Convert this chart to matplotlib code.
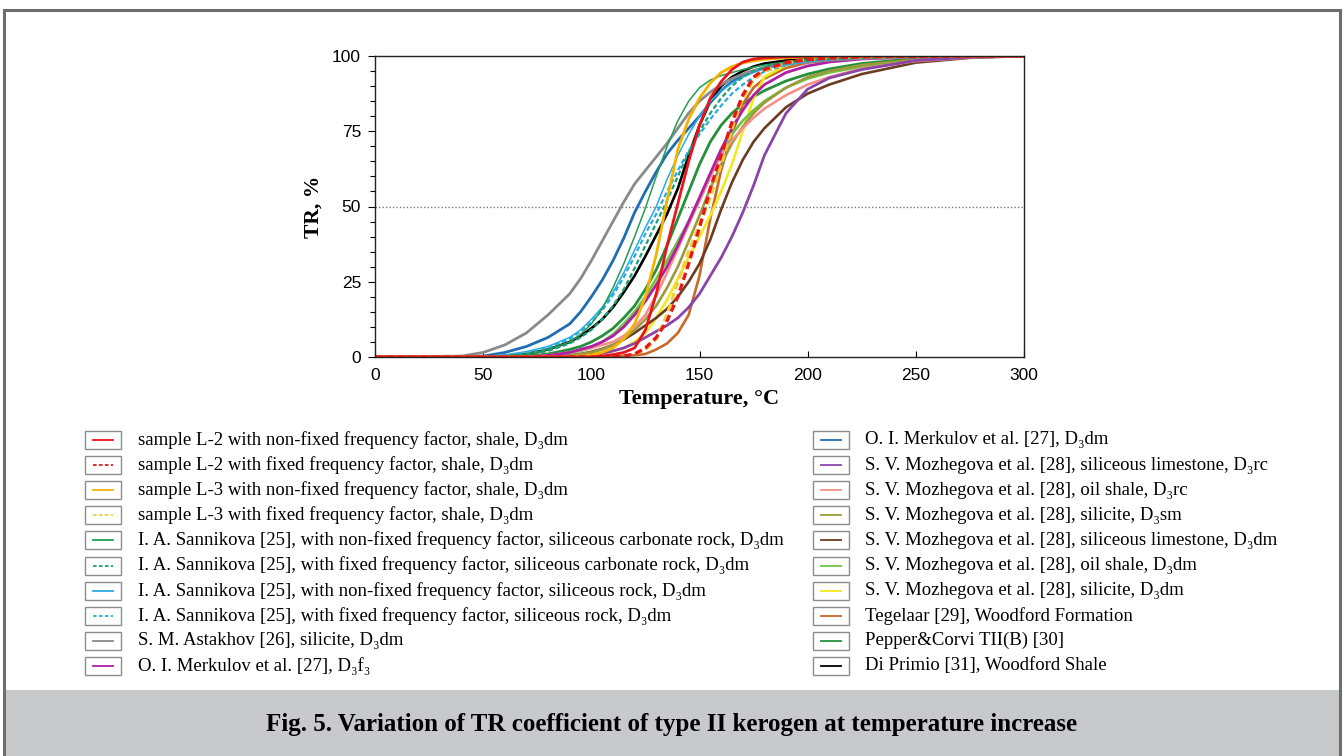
import numpy as np
import matplotlib
matplotlib.use('Agg')
import matplotlib.pyplot as plt
from matplotlib.patches import Rectangle
from matplotlib.lines import Line2D
from matplotlib.ticker import MultipleLocator

# temperature grid, degC
temp = [0, 40, 50, 60, 70, 80, 90, 95, 100, 105, 110, 115, 120, 125, 130, 135, 140,
        145, 150, 155, 160, 165, 170, 175, 180, 190, 200, 210, 225, 250, 275, 300]

# TR, %
tr_l2_free = [0, 0, 0, 0, 0, 0, 0, 0, 0, 0.3, 0.8, 1.5, 3, 9, 21, 37, 51,
              65, 77, 86, 91.5, 95.5, 98, 99, 99.4, 99.7, 99.9, 100, 100, 100, 100, 100]
tr_l2_fix = [0, 0, 0, 0, 0, 0, 0, 0, 0, 0, 0, 0.3, 1, 3, 6.5, 12, 20,
             31, 43, 56, 67, 78, 87, 93, 95.5, 97.8, 98.8, 99.3, 99.7, 99.9, 100, 100]
tr_l3_free = [0, 0, 0, 0, 0, 0, 0, 0.3, 0.7, 1.5, 3, 6, 11, 20, 34, 52, 69,
              79, 86, 91, 94.5, 96.5, 97.7, 98.4, 98.9, 99.4, 99.7, 99.8, 99.9, 100, 100, 100]
tr_l3_fix = [0, 0, 0, 0, 0, 0, 0, 0, 0, 0, 0, 0.2, 1, 2.5, 6, 14, 25,
             35, 44, 53, 64, 76, 86, 92, 95, 97.8, 98.9, 99.4, 99.7, 99.9, 100, 100]
tr_sann_sc_free = [0, 0, 0, 0.3, 1, 2.5, 5, 7.5, 11, 16, 23, 31, 40, 49.5, 60, 70, 78.5,
                   85, 89.5, 92, 93.5, 94.5, 95.5, 96.3, 97, 98, 98.7, 99.1, 99.5, 99.8, 100, 100]
tr_sann_sc_fix = [0, 0, 0, 0.3, 0.8, 2, 4.5, 6.5, 9, 12.5, 17, 22.5, 29.5, 37, 44.5, 52, 60,
                  68, 75, 81, 86, 90, 93, 95, 96.3, 97.8, 98.6, 99.1, 99.5, 99.8, 100, 100]
tr_sann_s_free = [0, 0, 0.2, 0.7, 1.8, 3.5, 6.5, 9, 12.5, 16.5, 21.5, 28, 35.5, 43, 50, 59, 67,
                  74, 80, 85, 88.5, 91, 93, 94.5, 95.7, 97.3, 98.3, 98.9, 99.4, 99.8, 100, 100]
tr_sann_s_fix = [0, 0, 0.1, 0.5, 1.3, 3, 6, 8.5, 11.5, 15.5, 20.5, 26.5, 33.5, 41, 47.5, 55, 62,
                 68.5, 74, 79, 83.5, 87.5, 90.5, 93, 94.8, 97, 98.2, 98.9, 99.4, 99.8, 100, 100]
tr_astakhov = [0, 0.3, 1.5, 4, 8, 14, 21, 26, 32, 38.5, 45, 51.5, 57.5, 62, 66.5, 71, 76,
               81, 85, 88, 90.5, 92.5, 94, 95.2, 96, 97.2, 98, 98.6, 99.2, 99.7, 99.9, 100]
tr_merk_f3 = [0, 0, 0, 0, 0, 0.5, 1.5, 2.5, 3.5, 5, 7, 10, 14, 18.5, 24, 30, 37,
              45, 53, 61, 69, 76, 82, 87, 90.5, 94.5, 96.7, 98, 99, 99.7, 100, 100]
tr_merk_dm = [0, 0, 0.3, 1.5, 3.5, 6.5, 11, 15, 20, 25.5, 32, 39.5, 48, 55, 61.5, 67.5, 72,
              76, 80, 84.5, 88.5, 91.5, 93.5, 95, 96.2, 97.7, 98.5, 99, 99.5, 99.8, 100, 100]
tr_moz_lime_rc = [0, 0, 0, 0, 0, 0, 0, 0.3, 0.7, 1.2, 2, 3, 4.5, 6.5, 8.5, 10.5, 13,
                  16.5, 21, 27, 33, 40, 48, 57, 67, 81, 89, 92.7, 95.5, 98.5, 99.6, 100]
tr_moz_oil_rc = [0, 0, 0, 0, 0, 0.5, 1.5, 2.2, 3, 4, 5, 7, 10, 14, 20.5, 28, 36,
                 44, 52, 60, 67, 72, 76, 79.5, 82.5, 87, 90.5, 93, 95.8, 98.3, 99.5, 100]
tr_moz_sil_sm = [0, 0, 0, 0, 0, 0, 0.5, 1, 1.5, 2.5, 4, 6, 9, 12.5, 17, 23, 30,
                 38.5, 47, 56, 64, 71, 76.5, 81, 84.5, 89.5, 93, 95, 97, 98.8, 99.6, 100]
tr_moz_lime_dm = [0, 0, 0, 0, 0, 0, 0.5, 1, 1.7, 2.7, 4, 5.8, 8, 10.5, 13, 16, 20,
                  25, 31, 39, 49, 58, 65.5, 71.5, 76, 83, 87.5, 90.5, 94, 97.8, 99.4, 100]
tr_moz_oil_dm = [0, 0, 0, 0, 0, 0.5, 1.5, 2, 3, 5, 7.5, 11, 15, 20, 26, 32, 38.5,
                 45, 52, 60, 68, 74, 78.5, 82, 85, 89.5, 92.5, 94.5, 96.5, 98.5, 99.5, 100]
tr_moz_sil_dm = [0, 0, 0, 0, 0, 0, 0, 0, 0.5, 1, 2, 3, 5, 8, 13, 19, 26,
                 33, 40, 47, 55, 64, 75, 86, 93, 97, 98.5, 99.2, 99.6, 99.9, 100, 100]
tr_tegelaar = [0, 0, 0, 0, 0, 0, 0, 0, 0, 0, 0.2, 0.4, 0.6, 1, 2.5, 4.5, 8,
               14, 27, 46, 62, 74, 84, 89.5, 92.5, 96, 97.8, 98.7, 99.4, 99.8, 100, 100]
tr_pepper = [0, 0, 0, 0, 0.3, 1, 2.5, 3.5, 5, 7, 9.5, 13, 17, 22.5, 29, 37, 46,
             55, 64, 71.5, 77, 81, 84, 86.5, 88.5, 91.7, 94, 95.7, 97.5, 99.2, 99.8, 100]
tr_diprimio = [0, 0, 0, 0.3, 1, 2.5, 5, 7, 9.5, 12.5, 16.5, 21.5, 27, 33.5, 40.5, 47.5, 56,
               67, 77, 85, 90, 93, 95, 96.5, 97.5, 98.5, 99.1, 99.5, 99.8, 100, 100, 100]

series = [tr_l2_free, tr_l2_fix, tr_l3_free, tr_l3_fix, tr_sann_sc_free, tr_sann_sc_fix,
          tr_sann_s_free, tr_sann_s_fix, tr_astakhov, tr_merk_f3,
          tr_merk_dm, tr_moz_lime_rc, tr_moz_oil_rc, tr_moz_sil_sm, tr_moz_lime_dm,
          tr_moz_oil_dm, tr_moz_sil_dm, tr_tegelaar, tr_pepper, tr_diprimio]

labels = ['sample L-2 with non-fixed frequency factor, shale, D₃dm',
          'sample L-2 with fixed frequency factor, shale, D₃dm',
          'sample L-3 with non-fixed frequency factor, shale, D₃dm',
          'sample L-3 with fixed frequency factor, shale, D₃dm',
          'I. A. Sannikova [25], with non-fixed frequency factor, siliceous carbonate rock, D₃dm',
          'I. A. Sannikova [25], with fixed frequency factor, siliceous carbonate rock, D₃dm',
          'I. A. Sannikova [25], with non-fixed frequency factor, siliceous rock, D₃dm',
          'I. A. Sannikova [25], with fixed frequency factor, siliceous rock, D₃dm',
          'S. M. Astakhov [26], silicite, D₃dm',
          'O. I. Merkulov et al. [27], D₃f₃',
          'O. I. Merkulov et al. [27], D₃dm',
          'S. V. Mozhegova et al. [28], siliceous limestone, D₃rc',
          'S. V. Mozhegova et al. [28], oil shale, D₃rc',
          'S. V. Mozhegova et al. [28], silicite, D₃sm',
          'S. V. Mozhegova et al. [28], siliceous limestone, D₃dm',
          'S. V. Mozhegova et al. [28], oil shale, D₃dm',
          'S. V. Mozhegova et al. [28], silicite, D₃dm',
          'Tegelaar [29], Woodford Formation',
          'Pepper&Corvi TII(B) [30]',
          'Di Primio [31], Woodford Shale']

colors = ['#e8161b', '#e8161b', '#f5b300', '#f2cf3a', '#1f9e54', '#1aa27a',
          '#29abe2', '#29abe2', '#8a8a8a', '#b01ea6',
          '#1f6db4', '#8b45a8', '#f39189', '#9b9a3c', '#6b3b22',
          '#6cc640', '#f2e81c', '#c8682a', '#24913a', '#000000']
styles = ['-', '--', '-', '--', '-', '--', '-', '--', '-', '-',
          '-', '-', '-', '-', '-', '-', '-', '-', '-', '-']
widths = [2.0, 2.4, 2.0, 2.4, 1.1, 1.6, 1.1, 1.6, 2.0, 2.0,
          2.0, 2.0, 1.9, 1.9, 1.9, 1.9, 1.9, 1.9, 2.0, 1.9]

W, H = 1344, 756
serif = ['Liberation Serif', 'DejaVu Serif']

def fx(x):
    return x / W

def fy(y):
    return 1 - y / H

fig = plt.figure(figsize=(W / 100, H / 100), dpi=100)
fig.patch.set_facecolor('white')

# caption band and outer frame
fig.add_artist(Rectangle((fx(4), 0), fx(1336), 66 / H, transform=fig.transFigure,
                         facecolor='#c8c9cb', edgecolor='none', zorder=0))
fig.add_artist(Rectangle((fx(4), -0.05), fx(1336), fy(10) + 0.05, transform=fig.transFigure,
                         facecolor='none', edgecolor='#6e6e6e', lw=2.2, zorder=5))
fig.text(0.5, fy(725), 'Fig. 5. Variation of TR coefficient of type II kerogen at temperature increase',
         ha='center', va='center', fontsize=18, fontweight='bold', family=serif)

ax = fig.add_axes([fx(375), fy(357), fx(1024 - 375), (357 - 56) / H])
for i in reversed(range(len(series))):
    ax.plot(temp, series[i], color=colors[i], ls=styles[i], lw=widths[i],
            dashes=(2.2, 1.2) if styles[i] == '--' else (None, None), solid_capstyle='round')
ax.axhline(50, color='#777777', ls=(0, (1, 1.5)), lw=1.0, zorder=0)

ax.set_xlim(0, 300)
ax.set_ylim(0, 100)
ax.xaxis.set_major_locator(MultipleLocator(50))
ax.yaxis.set_major_locator(MultipleLocator(25))
ax.yaxis.set_minor_locator(MultipleLocator(5))
ax.tick_params(axis='y', which='major', direction='out', length=5, width=0.8, labelsize=12.5, pad=5)
ax.tick_params(axis='y', which='minor', direction='out', length=3.5, width=0.8)
ax.tick_params(axis='x', which='major', direction='in', length=4, width=0.8, labelsize=12.5, pad=8)
for lab in ax.get_xticklabels() + ax.get_yticklabels():
    lab.set_family('Liberation Sans')
for s in ax.spines.values():
    s.set_linewidth(1.0)
    s.set_color('#222222')
ax.set_xlabel('Temperature, °C', fontsize=16, fontweight='bold', family=serif, labelpad=4)
ax.set_ylabel('TR, %', fontsize=15.5, fontweight='bold', family=serif, labelpad=6)

# legend drawn as framed swatches in two columns
for i in range(len(labels)):
    col, row = divmod(i, 10)
    yc = 440 + 25.1 * row
    bx = 85 if col == 0 else 813
    tx = 138 if col == 0 else 865
    fig.add_artist(Rectangle((fx(bx), fy(yc + 9)), fx(36), 18 / H, transform=fig.transFigure,
                             facecolor='white', edgecolor='#8c8c8c', lw=1.0))
    fig.add_artist(Line2D([fx(bx + 8), fx(bx + 28)], [fy(yc), fy(yc)], transform=fig.transFigure,
                          color=colors[i], lw=1.3, ls=styles[i],
                          dashes=(2.0, 1.3) if styles[i] == '--' else (None, None)))
    fig.text(fx(tx), fy(yc), labels[i], ha='left', va='center', fontsize=13.5, family=serif)

fig.savefig('out.png', dpi=100)
